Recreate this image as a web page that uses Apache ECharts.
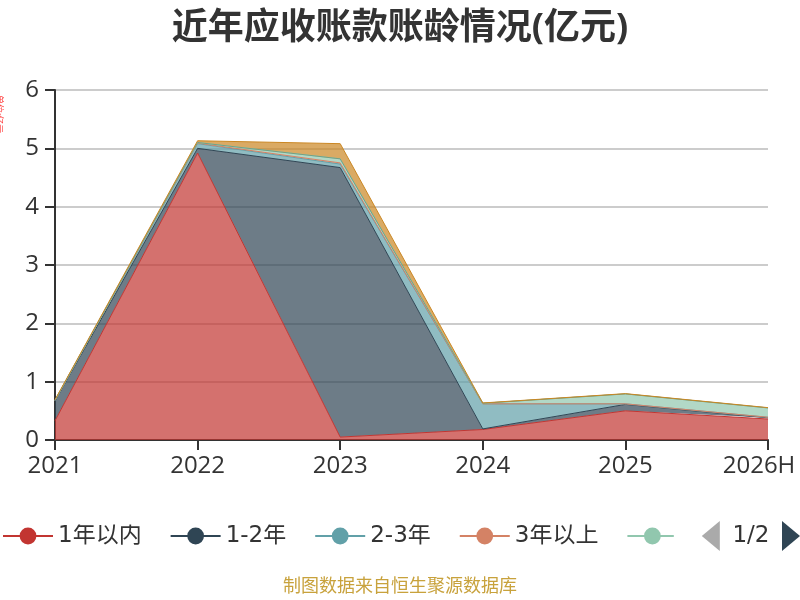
<!DOCTYPE html>
<html><head><meta charset="utf-8">
<script src="https://cdn.jsdelivr.net/npm/echarts@6/dist/echarts.min.js"></script>
<style>html,body{margin:0;padding:0;background:#fff}#c{width:800px;height:600px}</style>
</head><body><div id="c"></div>
<script>
const years = ['2021','2022','2023','2024','2025','2026H'];
const s1 = [0.33, 4.92, 0.05, 0.18, 0.50, 0.36];   // 1年以内
const s2 = [0.34, 0.08, 4.62, 0.01, 0.11, 0.02];   // 1-2年
const s3 = [0.01, 0.08, 0.06, 0.43, 0.01, 0.01];   // 2-3年
const s4 = [0.00, 0.01, 0.02, 0.00, 0.00, 0.00];   // 3年以上
const s5 = [0.00, 0.01, 0.07, 0.01, 0.17, 0.16];   // 3-4年
const s6 = [0.00, 0.00, 0.00, 0.00, 0.00, 0.00];   // 4-5年
const s7 = [0.01, 0.03, 0.26, 0.005, 0.005, 0.005]; // 5年以上
const names = ['1年以内','1-2年','2-3年','3年以上','3-4年','4-5年','5年以上'];
const values = [s1,s2,s3,s4,s5,s6,s7];
const colors = ['#c23531','#2f4554','#61a0a8','#d48265','#91c7ae','#749f83','#ca8622'];
const yTicks = [0,1,2,3,4,5,6];
const font = "'Open Sans','Noto Sans CJK SC',sans-serif";
const legendFont = "'DejaVu Sans','Noto Sans CJK SC',sans-serif";

const chart = echarts.init(document.getElementById('c'));
chart.setOption({
  color: colors,
  animation: false,
  title: {
    text: '近年应收账款账龄情况(亿元)', left: 'center', top: 6,
    textStyle: {fontSize: 36, fontWeight: 'bold', color: '#333', fontFamily: font}
  },
  graphic: [
    {type: 'text', left: 'center', top: 578,
     style: {text: '制图数据来自恒生聚源数据库', fill: '#c8a23c', fontSize: 18, fontFamily: font}},
    {type: 'text', x: 3, y: 95, rotation: -Math.PI/2,
     style: {text: '单位:亿元', fill: '#ff4444', fontSize: 9, fontFamily: font}}
  ],
  legend: {
    type: 'scroll', bottom: 44, left: 0, right: 0, padding: [5,0,5,2],
    itemWidth: 50, itemHeight: 21, itemGap: 28,
    textStyle: {fontSize: 23, color: '#333', fontFamily: legendFont},
    pageIconSize: [18, 30], pageIconColor: '#2f4554', pageIconInactiveColor: '#aaa',
    pageButtonItemGap: 0,
    pageTextStyle: {fontSize: 23, color: '#333', fontFamily: legendFont},
    data: names
  },
  grid: {left: 55, right: 32, top: 90, bottom: 160, containLabel: false, outerBoundsMode: 'none'},
  xAxis: {
    type: 'category', data: years, boundaryGap: false,
    axisLine: {lineStyle: {color: '#333', width: 2}},
    axisTick: {length: 10, interval: 0, lineStyle: {width: 2}},
    axisLabel: {
      interval: 0, hideOverlap: false,
      fontSize: 24, color: '#333', fontFamily: font, margin: 14,
      formatter: (v, i) => i === years.length - 1 ? '{last|' + v + '}' : v,
      rich: {last: {fontSize: 24, color: '#333', fontFamily: font, padding: [0, 18, 0, 0]}}
    }
  },
  yAxis: {
    type: 'value', min: yTicks[0], max: yTicks[yTicks.length-1], interval: 1,
    axisLine: {show: true, lineStyle: {color: '#333', width: 2}},
    axisTick: {show: true, length: 10, lineStyle: {width: 2}},
    splitLine: {lineStyle: {color: '#ccc', width: 2}},
    axisLabel: {fontSize: 24, color: '#333', fontFamily: font, margin: 16}
  },
  series: names.map((n, i) => ({
    name: n, type: 'line', stack: 'total', data: values[i],
    symbol: 'circle', showSymbol: false,
    lineStyle: {width: 1},
    areaStyle: {opacity: 0.7}
  }))
});
</script></body></html>
